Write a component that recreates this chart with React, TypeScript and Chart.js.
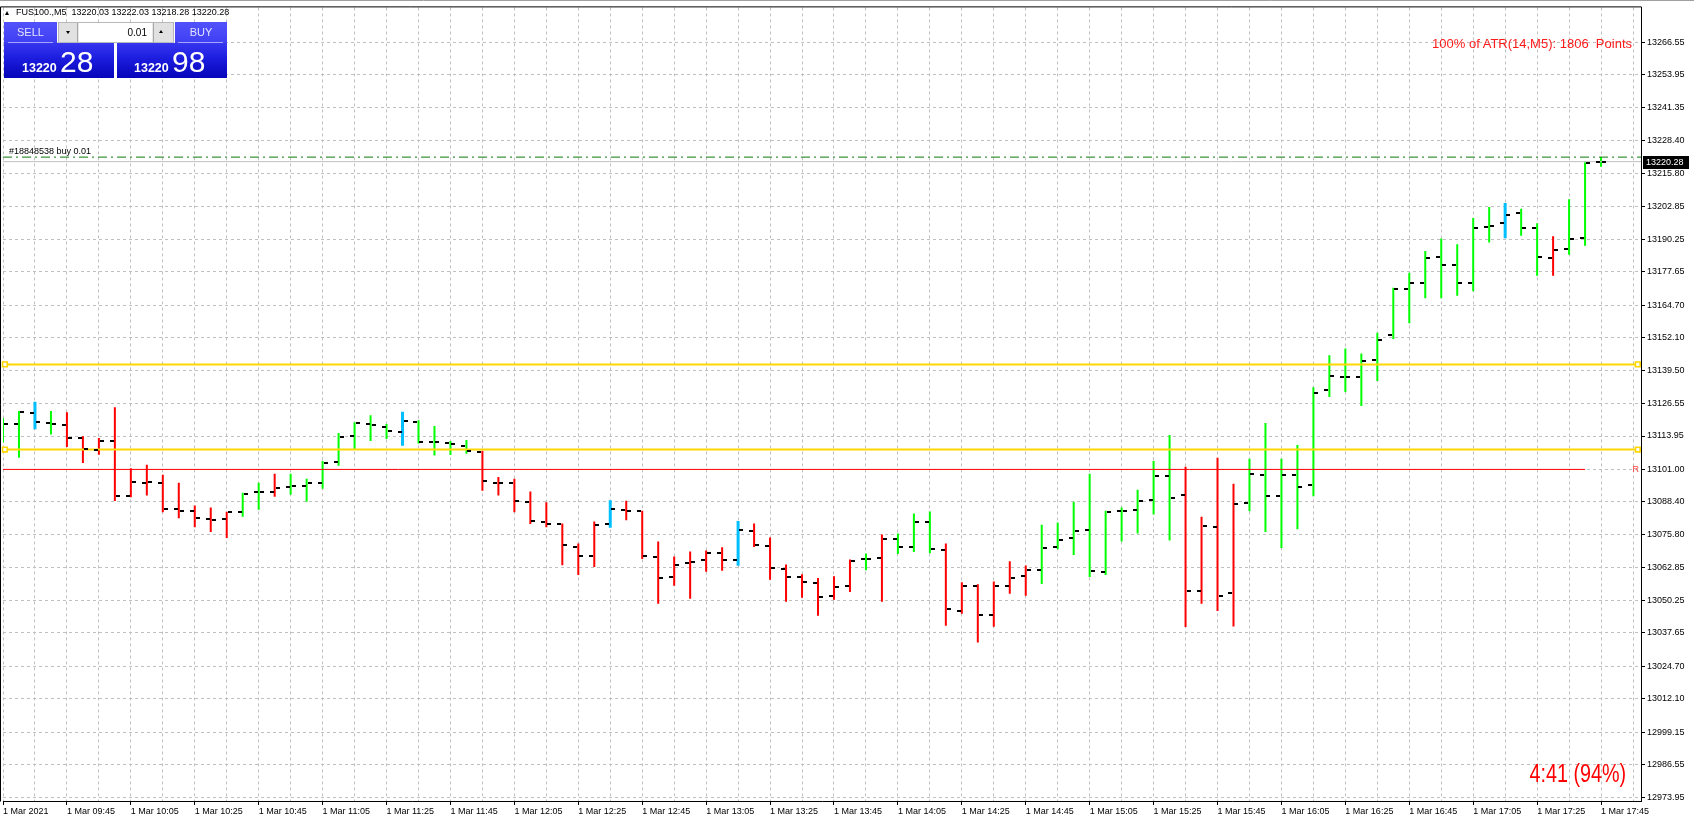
import React, { useEffect, useRef } from 'react';
import { Chart, registerables } from 'chart.js';

Chart.register(...registerables);

// ---------- data ----------
const TIME_LABELS = [
  '1 Mar 2021', '1 Mar 09:45', '1 Mar 10:05', '1 Mar 10:25', '1 Mar 10:45', '1 Mar 11:05',
  '1 Mar 11:25', '1 Mar 11:45', '1 Mar 12:05', '1 Mar 12:25', '1 Mar 12:45', '1 Mar 13:05',
  '1 Mar 13:25', '1 Mar 13:45', '1 Mar 14:05', '1 Mar 14:25', '1 Mar 14:45', '1 Mar 15:05',
  '1 Mar 15:25', '1 Mar 15:45', '1 Mar 16:05', '1 Mar 16:25', '1 Mar 16:45', '1 Mar 17:05',
  '1 Mar 17:25', '1 Mar 17:45',
];

const PRICE_TICKS = [
  13266.55, 13253.95, 13241.35, 13228.40, 13215.80, 13202.85, 13190.25, 13177.65,
  13164.70, 13152.10, 13139.50, 13126.55, 13113.95, 13101.00, 13088.40, 13075.80,
  13062.85, 13050.25, 13037.65, 13024.70, 13012.10, 12999.15, 12986.55, 12973.95,
];

const OPEN = [
  13114.0, 13118.7, 13122.9, 13119.1, 13118.3, 13113.3, 13108.5, 13112.0, 13090.8, 13095.9,
  13095.6, 13085.8, 13084.8, 13081.7, 13081.7, 13084.4, 13092.1, 13092.3, 13094.3, 13094.7,
  13095.9, 13103.7, 13114.1, 13118.7, 13117.5, 13115.5, 13119.3, 13111.8, 13111.4, 13110.2,
  13107.9, 13095.6, 13095.6, 13088.3, 13080.5, 13079.8, 13070.9, 13067.4, 13079.8, 13085.2,
  13084.8, 13067.0, 13059.3, 13064.7, 13065.9, 13068.6, 13065.9, 13077.1, 13071.3, 13062.4,
  13059.3, 13057.0, 13052.0, 13055.9, 13066.3, 13066.6, 13074.2, 13071.1, 13080.5, 13069.7,
  13046.2, 13055.9, 13044.7, 13055.9, 13059.7, 13062.0, 13070.9, 13074.4, 13077.5, 13061.3,
  13084.8, 13085.2, 13089.0, 13098.6, 13090.9, 13053.9, 13078.5, 13053.2, 13087.9, 13098.7,
  13090.6, 13099.0, 13094.8, 13131.8, 13136.8, 13136.8, 13143.4, 13153.0, 13171.1, 13173.4,
  13183.5, 13180.4, 13173.4, 13195.0, 13196.6, 13200.4, 13194.6, 13183.1, 13186.5, 13190.8,
  13220.03,
];

const HIGH = [
  13120.9, 13123.6, 13127.0, 13123.6, 13123.2, 13113.9, 13113.2, 13125.1, 13101.5, 13102.8,
  13098.9, 13095.8, 13087.0, 13086.2, 13084.6, 13092.0, 13095.8, 13099.3, 13099.3, 13097.4,
  13104.3, 13115.1, 13119.3, 13122.0, 13118.6, 13123.2, 13120.1, 13117.8, 13112.0, 13112.4,
  13108.2, 13098.1, 13097.4, 13092.4, 13088.3, 13080.0, 13072.3, 13080.8, 13088.9, 13088.9,
  13085.0, 13073.1, 13067.3, 13069.2, 13069.6, 13070.8, 13080.8, 13080.0, 13074.6, 13064.2,
  13060.4, 13058.9, 13059.6, 13066.1, 13068.4, 13075.8, 13076.2, 13083.9, 13084.7, 13072.3,
  13057.3, 13056.5, 13057.6, 13065.4, 13063.8, 13079.6, 13080.4, 13088.5, 13099.3, 13085.0,
  13086.2, 13093.1, 13104.3, 13114.3, 13102.0, 13082.7, 13105.5, 13095.4, 13105.1, 13119.0,
  13105.1, 13110.5, 13132.8, 13145.2, 13147.9, 13145.9, 13154.0, 13171.4, 13177.2, 13185.6,
  13190.5, 13188.3, 13198.4, 13202.7, 13204.1, 13202.0, 13196.4, 13191.4, 13205.7, 13220.0,
  13222.03,
];

const LOW = [
  13111.4, 13105.5, 13116.8, 13114.5, 13109.7, 13103.5, 13106.7, 13088.8, 13090.2, 13090.9,
  13084.4, 13082.1, 13078.6, 13076.7, 13074.4, 13082.7, 13085.4, 13090.4, 13091.2, 13088.5,
  13093.5, 13102.4, 13108.5, 13112.0, 13112.8, 13110.4, 13111.0, 13106.4, 13106.6, 13107.1,
  13092.7, 13090.9, 13084.4, 13079.8, 13078.6, 13063.9, 13060.1, 13063.2, 13078.6, 13081.3,
  13066.3, 13048.9, 13055.9, 13050.9, 13061.3, 13061.7, 13063.9, 13070.9, 13058.2, 13049.7,
  13051.3, 13044.3, 13050.5, 13053.5, 13061.9, 13049.7, 13068.2, 13069.0, 13068.5, 13040.4,
  13045.1, 13033.9, 13040.0, 13052.8, 13052.0, 13056.6, 13070.1, 13067.8, 13059.3, 13060.1,
  13073.1, 13076.2, 13083.5, 13073.5, 13039.9, 13048.9, 13046.1, 13040.1, 13084.8, 13076.7,
  13070.5, 13077.8, 13090.6, 13129.1, 13131.0, 13125.6, 13135.3, 13151.5, 13157.6, 13167.3,
  13167.3, 13168.3, 13170.0, 13188.9, 13190.8, 13191.6, 13176.1, 13176.1, 13184.2, 13187.7,
  13218.28,
];

const CLOSE = [
  13118.7, 13123.3, 13119.3, 13118.7, 13113.3, 13108.9, 13112.0, 13090.8, 13096.3, 13096.3,
  13085.8, 13084.8, 13082.1, 13081.3, 13084.4, 13091.6, 13092.1, 13093.9, 13094.4, 13095.6,
  13103.3, 13113.6, 13119.1, 13118.2, 13115.9, 13119.7, 13111.8, 13111.8, 13111.0, 13108.3,
  13096.6, 13095.8, 13088.6, 13080.9, 13080.0, 13071.7, 13067.4, 13079.4, 13085.5, 13084.8,
  13067.4, 13058.9, 13064.0, 13065.1, 13068.6, 13065.9, 13077.5, 13071.7, 13062.8, 13059.3,
  13057.4, 13051.6, 13055.5, 13065.5, 13066.3, 13074.2, 13070.8, 13080.5, 13070.0, 13047.0,
  13055.9, 13044.7, 13055.9, 13058.9, 13062.0, 13070.5, 13073.6, 13077.1, 13061.6, 13084.4,
  13084.8, 13088.6, 13098.6, 13089.8, 13053.9, 13079.0, 13052.0, 13087.5, 13099.4, 13090.6,
  13098.7, 13094.0, 13130.6, 13137.2, 13136.8, 13143.0, 13151.1, 13171.1, 13173.1, 13183.1,
  13180.4, 13173.1, 13194.6, 13195.4, 13199.7, 13194.6, 13183.5, 13186.2, 13190.4, 13219.7,
  13220.28,
];

// g = green, r = red, b = blue highlighted bar
const BAR_COLOR = (
  'ggbg' + 'rrrrrrrrrrr' + 'gg' + 'r' + 'ggggggg' + 'b' + 'gggg' + 'rrrrrrrr' + 'b' +
  'rrrrrrr' + 'b' + 'rrrrrrr' + 'g' + 'r' + 'ggg' + 'rrrrrr' + 'ggggggggg' + 'rrrr' +
  'gggggggggggggggg' + 'b' + 'gg' + 'r' + 'ggg'
).split('');

const YELLOW_LEVELS = [13141.7, 13108.7];
const R_LEVEL = 13101.0;
const R_END_BAR = 99;
const TRADE_PRICE = 13222.03;
const TRADE_LABEL = '#18848538 buy 0.01';
const BID = 13220.28;
const SYMBOL_LINE = 'FUS100.,M5  13220.03 13222.03 13218.28 13220.28';
const LOT = '0.01';
const SELL_SMALL = '13220';
const SELL_BIG = '28';
const BUY_SMALL = '13220';
const BUY_BIG = '98';
const ATR_TEXT = '100% of ATR(14,M5): 1806  Points';
const TIMER_TEXT = '4:41 (94%)';

// ---------- styling constants ----------
const W = 1694;
const H = 821;
const X_MIN = 0;
const X_MAX = 102.5;
const Y_MIN = 12972.5;
const Y_MAX = 13280.05;
const HANDLE_IN_L = 0.12;
const HANDLE_IN_R = 0.2;
const FONT = "'Liberation Sans', Arial, sans-serif";
const COLORS: Record<string, string> = { g: '#00ff00', r: '#ff0000', b: '#00bfff' };

function makeTick(side: 'left' | 'right') {
  const c = document.createElement('canvas');
  c.width = 12;
  c.height = 2;
  const g = c.getContext('2d')!;
  g.fillStyle = '#000000';
  g.fillRect(side === 'left' ? 1 : 7, 0, 4, 2);
  return c;
}

const mt4Plugin = {
  id: 'mt4',
  beforeDatasetsDraw(chart: any) {
    chart.ctx.imageSmoothingEnabled = false;
  },
  afterDraw(chart: any) {
    const { ctx, chartArea: a, scales } = chart;
    const y = scales.y;
    ctx.save();
    ctx.imageSmoothingEnabled = true;
    // window top line
    ctx.strokeStyle = '#a0a0a0';
    ctx.lineWidth = 1;
    ctx.beginPath();
    ctx.moveTo(0, 0.5);
    ctx.lineTo(chart.width, 0.5);
    ctx.stroke();
    // chart frame top + left
    ctx.strokeStyle = '#000';
    ctx.beginPath();
    ctx.moveTo(0.5, a.top - 0.5);
    ctx.lineTo(a.right + 0.5, a.top - 0.5);
    ctx.moveTo(0.5, a.top - 0.5);
    ctx.lineTo(0.5, a.bottom + 0.5);
    ctx.stroke();
    // trade label
    ctx.font = `9px ${FONT}`;
    ctx.fillStyle = '#000';
    ctx.textAlign = 'left';
    ctx.textBaseline = 'alphabetic';
    ctx.fillText(TRADE_LABEL, a.left + 6, y.getPixelForValue(TRADE_PRICE) - 3);
    // R label
    ctx.fillStyle = '#ff3c3c';
    ctx.textAlign = 'right';
    ctx.textBaseline = 'middle';
    ctx.fillText('R', a.right - 2, y.getPixelForValue(R_LEVEL));
    // bid price box on axis
    const by = Math.round(y.getPixelForValue(BID));
    ctx.fillStyle = '#000';
    ctx.fillRect(a.right + 2, by - 6, 46, 13);
    ctx.fillStyle = '#fff';
    ctx.textAlign = 'left';
    ctx.fillText(BID.toFixed(2), a.right + 5, by + 0.5);
    ctx.restore();
  },
};

export default function App() {
  const ref = useRef<HTMLCanvasElement>(null);

  useEffect(() => {
    const canvas = ref.current;
    if (!canvas) return;
    const leftTick = makeTick('left');
    const rightTick = makeTick('right');
    const idx = OPEN.map((_, i) => i);
    const xGrid: number[] = [];
    for (let v = 0; v <= Math.floor(X_MAX); v += 2) xGrid.push(v);
    const hLine = (p: number, x0 = X_MIN, x1 = X_MAX) => [{ x: x0, y: p }, { x: x1, y: p }];

    const datasets: any[] = [
      {
        type: 'line', label: 'open', data: idx.map((i) => ({ x: i, y: OPEN[i] })),
        showLine: false, pointStyle: leftTick, pointRadius: 3, pointHoverRadius: 3, borderWidth: 0,
      },
      {
        type: 'line', label: 'close', data: idx.map((i) => ({ x: i, y: CLOSE[i] })),
        showLine: false, pointStyle: rightTick, pointRadius: 3, pointHoverRadius: 3, borderWidth: 0,
      },
      {
        type: 'line', label: 'trade', data: hLine(TRADE_PRICE), borderColor: '#0b7a0b',
        borderWidth: 1, borderDash: [9, 4, 2, 4], pointRadius: 0, tension: 0,
      },
      {
        type: 'line', label: 'bid', data: hLine(BID), borderColor: '#c0c0c0',
        borderWidth: 1, pointRadius: 0, tension: 0,
      },
      ...YELLOW_LEVELS.map((p) => ({
        type: 'line', label: 'level',
        data: [
          { x: X_MIN, y: p }, { x: X_MIN + HANDLE_IN_L, y: p },
          { x: X_MAX - HANDLE_IN_R, y: p }, { x: X_MAX, y: p },
        ],
        borderColor: '#ffd700', borderWidth: 2, tension: 0,
        pointRadius: [0, 3.3, 3.3, 0], pointHoverRadius: [0, 3.3, 3.3, 0],
        pointStyle: 'rect', pointBorderColor: '#ffd700', pointBackgroundColor: '#ffffff',
        pointBorderWidth: 1.6, clip: false,
      })),
      {
        type: 'line', label: 'R', data: hLine(R_LEVEL, X_MIN, R_END_BAR), borderColor: '#ff0000',
        borderWidth: 1, pointRadius: 0, tension: 0,
      },
      {
        type: 'bar', label: 'range', data: idx.map((i) => ({ x: i, y: [LOW[i], HIGH[i]] })),
        backgroundColor: BAR_COLOR.map((c) => COLORS[c]),
        borderWidth: 0, barThickness: 2,
        inflateAmount: (c: any) => (BAR_COLOR[c.dataIndex] === 'b' ? 0.5 : 0),
      },
    ];

    const chart = new Chart(canvas, {
      type: 'bar',
      data: { datasets },
      options: {
        responsive: false,
        maintainAspectRatio: false,
        animation: false,
        events: [],
        layout: { padding: { top: 4, left: 1, right: 0, bottom: 0 } },
        plugins: { legend: { display: false }, tooltip: { enabled: false } },
        scales: {
          x: {
            type: 'linear', min: X_MIN, max: X_MAX, offset: false,
            afterBuildTicks: (s: any) => { s.ticks = xGrid.map((v) => ({ value: v })); },
            afterFit: (s: any) => { s.height = 20; },
            grid: {
              color: '#c0c0c0', lineWidth: 1, offset: false, drawTicks: true, tickLength: 4,
              tickWidth: 1,
              tickColor: (c: any) => (c.tick && c.tick.value % 4 === 0 ? '#000000' : 'rgba(0,0,0,0)'),
            },
            border: { display: true, color: '#000', width: 1, dash: [3, 3] },
            ticks: {
              autoSkip: false, maxRotation: 0, minRotation: 0, align: 'start', padding: 1,
              color: '#000', font: { family: FONT, size: 9 },
              callback: (v: any) => (Number(v) % 4 === 0 ? TIME_LABELS[Number(v) / 4] ?? '' : ''),
            },
          },
          y: {
            type: 'linear', position: 'right', min: Y_MIN, max: Y_MAX, stacked: false,
            afterBuildTicks: (s: any) => { s.ticks = PRICE_TICKS.map((v) => ({ value: v })); },
            afterFit: (s: any) => { s.width = 53; },
            grid: { color: '#c0c0c0', lineWidth: 1, drawTicks: true, tickLength: 4, tickColor: '#000' },
            border: { display: true, color: '#000', width: 1, dash: [3, 3] },
            ticks: {
              autoSkip: false, padding: 2, color: '#000', font: { family: FONT, size: 9 },
              callback: (v: any) => Number(v).toFixed(2),
            },
          },
        },
      } as any,
      plugins: [mt4Plugin as any],
    });
    return () => chart.destroy();
  }, []);

  const abs: React.CSSProperties = { position: 'absolute', fontFamily: FONT, whiteSpace: 'pre' };
  const blueTop = 'linear-gradient(#5252fc, #3f3ff3)';
  const blueLow = 'linear-gradient(#3636f0 0%, #1c1cde 45%, #0505b8 100%)';

  return (
    <div style={{ position: 'fixed', left: 0, top: 0, width: W, height: H, background: '#fff', overflow: 'hidden' }}>
      <canvas ref={ref} width={W} height={H} style={{ position: 'absolute', left: 0, top: 0, width: W, height: H }} />

      {/* header */}
      <div style={{ position: 'absolute', left: 5, top: 11, width: 0, height: 0, borderLeft: '2.5px solid transparent', borderRight: '2.5px solid transparent', borderBottom: '4px solid #000' }} />
      <div style={{ ...abs, left: 16, top: 8, fontSize: 9, lineHeight: '9px', color: '#000' }}>{SYMBOL_LINE}</div>

      {/* sell side */}
      <div style={{ position: 'absolute', left: 4, top: 22, width: 53, height: 21, background: blueTop }} />
      <div style={{ ...abs, left: 4, top: 22, width: 53, height: 21, lineHeight: '21px', textAlign: 'center', fontSize: 11, color: '#e4e4ff' }}>SELL</div>
      <div style={{ position: 'absolute', left: 4, top: 43, width: 110, height: 35, background: blueLow }} />
      <div style={{ position: 'absolute', left: 8, top: 42, width: 45, height: 1, background: '#a4a4ff' }} />
      <div style={{ ...abs, left: 22, top: 61.5, fontSize: 12.5, lineHeight: '12.5px', fontWeight: 'bold', color: '#fff' }}>{SELL_SMALL}</div>
      <div style={{ ...abs, left: 60, top: 46.5, fontSize: 30, lineHeight: '30px', color: '#fff' }}>{SELL_BIG}</div>

      {/* lot box */}
      <div style={{ position: 'absolute', left: 58, top: 22, width: 116, height: 21, background: '#e8e8e8', boxSizing: 'border-box', border: '1px solid #b8b8b8' }} />
      <div style={{ position: 'absolute', left: 59, top: 23, width: 19, height: 19, background: '#e1e1e1', boxSizing: 'border-box', borderRight: '1px solid #a8a8a8' }} />
      <div style={{ position: 'absolute', left: 66, top: 31, width: 0, height: 0, borderLeft: '2.5px solid transparent', borderRight: '2.5px solid transparent', borderTop: '3px solid #000' }} />
      <div style={{ position: 'absolute', left: 79, top: 23, width: 73, height: 19, background: '#fff' }} />
      <div style={{ ...abs, left: 79, top: 23, width: 68, height: 19, lineHeight: '19px', textAlign: 'right', fontSize: 10, color: '#000' }}>{LOT}</div>
      <div style={{ position: 'absolute', left: 153, top: 23, width: 20, height: 19, background: '#e1e1e1', boxSizing: 'border-box', borderLeft: '1px solid #a8a8a8' }} />
      <div style={{ position: 'absolute', left: 159, top: 30, width: 0, height: 0, borderLeft: '2.5px solid transparent', borderRight: '2.5px solid transparent', borderBottom: '3px solid #000' }} />

      {/* buy side */}
      <div style={{ position: 'absolute', left: 175, top: 22, width: 52, height: 21, background: blueTop }} />
      <div style={{ ...abs, left: 175, top: 22, width: 52, height: 21, lineHeight: '21px', textAlign: 'center', fontSize: 11, color: '#e4e4ff' }}>BUY</div>
      <div style={{ position: 'absolute', left: 117, top: 43, width: 110, height: 35, background: blueLow }} />
      <div style={{ position: 'absolute', left: 178, top: 42, width: 45, height: 1, background: '#a4a4ff' }} />
      <div style={{ ...abs, left: 134, top: 61.5, fontSize: 12.5, lineHeight: '12.5px', fontWeight: 'bold', color: '#fff' }}>{BUY_SMALL}</div>
      <div style={{ ...abs, left: 172, top: 46.5, fontSize: 30, lineHeight: '30px', color: '#fff' }}>{BUY_BIG}</div>

      {/* indicator texts */}
      <div style={{ ...abs, right: W - 1632, top: 36.5, fontSize: 13, lineHeight: '13px', color: '#ff1a1a' }}>{ATR_TEXT}</div>
      <div style={{ ...abs, right: W - 1626, top: 760, fontSize: 26, lineHeight: '26px', color: '#ff0000', transform: 'scaleX(0.76)', transformOrigin: 'right top' }}>{TIMER_TEXT}</div>
    </div>
  );
}
